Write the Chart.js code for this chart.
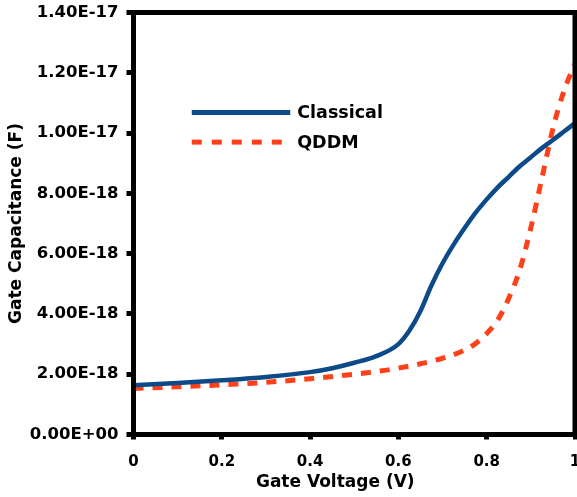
<!DOCTYPE html>
<html>
<head>
<meta charset="utf-8">
<script src="https://cdn.jsdelivr.net/npm/chart.js@4/dist/chart.umd.min.js"></script>
<style>
  html, body { margin: 0; padding: 0; background: #ffffff; }
  #wrap { width: 577px; height: 497px; position: relative; }
</style>
</head>
<body>
<div id="wrap"><canvas id="c" width="577" height="497"></canvas></div>
<script>
// ---- data ----
const classicalX = [0, 0.1, 0.2, 0.3, 0.4, 0.45, 0.5, 0.55, 0.6, 0.625, 0.65, 0.675, 0.7, 0.725, 0.75, 0.775, 0.8, 0.825, 0.85, 0.875, 0.9, 0.925, 0.95, 0.975, 1.0];
const classicalY = [1.63e-18, 1.71e-18, 1.80e-18, 1.91e-18, 2.07e-18, 2.20e-18, 2.38e-18, 2.60e-18, 3.00e-18, 3.45e-18, 4.10e-18, 4.95e-18, 5.68e-18, 6.30e-18, 6.85e-18, 7.36e-18, 7.80e-18, 8.20e-18, 8.55e-18, 8.90e-18, 9.20e-18, 9.50e-18, 9.77e-18, 1.005e-17, 1.033e-17];
const qddmX = [0, 0.1, 0.2, 0.3, 0.4, 0.5, 0.6, 0.7, 0.75, 0.775, 0.8, 0.825, 0.85, 0.875, 0.9, 0.925, 0.95, 0.975, 1.0];
const qddmY = [1.53e-18, 1.58e-18, 1.65e-18, 1.73e-18, 1.85e-18, 2.00e-18, 2.20e-18, 2.53e-18, 2.80e-18, 3.02e-18, 3.35e-18, 3.80e-18, 4.52e-18, 5.47e-18, 6.86e-18, 8.50e-18, 1.015e-17, 1.140e-17, 1.230e-17];
const seriesNames = ['Classical', 'QDDM'];
const xTickValues = [0, 0.2, 0.4, 0.6, 0.8, 1];
const xTickLabels = ['0', '0.2', '0.4', '0.6', '0.8', '1'];
const yTickValues = [0, 2e-18, 4e-18, 6e-18, 8e-18, 1e-17, 1.2e-17, 1.4e-17];
const yTickLabels = ['0.00E+00', '2.00E-18', '4.00E-18', '6.00E-18', '8.00E-18', '1.00E-17', '1.20E-17', '1.40E-17'];
const xTitle = 'Gate Voltage (V)';
const yTitle = 'Gate Capacitance (F)';

const toPts = (xs, ys) => xs.map((x, i) => ({ x: x, y: ys[i] }));

Chart.defaults.font.family = "'DejaVu Sans', sans-serif";
Chart.defaults.font.weight = 'bold';
Chart.defaults.color = '#000';

const framePlugin = {
  id: 'frame',
  afterDraw(chart) {
    const { ctx, chartArea: a } = chart;
    ctx.save();
    ctx.strokeStyle = '#000';
    ctx.lineWidth = 5;
    ctx.strokeRect(a.left, a.top, a.right - a.left, a.bottom - a.top);
    // x-axis title (drawn left of centre, as in the reference)
    ctx.fillStyle = '#000';
    ctx.font = "bold 17px 'DejaVu Sans', sans-serif";
    ctx.textAlign = 'center';
    ctx.textBaseline = 'alphabetic';
    ctx.fillText(xTitle, a.left + (a.right - a.left) * 0.457, 487);
    ctx.restore();
  }
};

const legendPlugin = {
  id: 'customLegend',
  afterDatasetsDraw(chart) {
    const ctx = chart.ctx;
    const xs = chart.scales.x, ys = chart.scales.y;
    const x0 = xs.getPixelForValue(0.132);
    const x1 = xs.getPixelForValue(0.355);
    const rows = [ys.getPixelForValue(1.068e-17), ys.getPixelForValue(0.97e-17)];
    ctx.save();
    chart.data.datasets.forEach((ds, i) => {
      const y = rows[i];
      ctx.beginPath();
      ctx.strokeStyle = ds.borderColor;
      ctx.lineWidth = 5;
      ctx.setLineDash(ds.borderDash ? [10, 10] : []);
      ctx.lineCap = 'butt';
      ctx.moveTo(x0, y);
      ctx.lineTo(x1, y);
      ctx.stroke();
      ctx.setLineDash([]);
      ctx.fillStyle = '#000';
      ctx.font = "bold 17.5px 'DejaVu Sans', sans-serif";
      ctx.textBaseline = 'middle';
      ctx.textAlign = 'left';
      ctx.fillText(ds.label, x1 + 7, y + 1);
    });
    ctx.restore();
  }
};

new Chart(document.getElementById('c'), {
  type: 'scatter',
  data: {
    datasets: [
      {
        label: seriesNames[0],
        data: toPts(classicalX, classicalY),
        showLine: true,
        borderColor: '#0c4a8a',
        backgroundColor: '#0c4a8a',
        borderWidth: 4.5,
        pointRadius: 0,
        cubicInterpolationMode: 'monotone'
      },
      {
        label: seriesNames[1],
        data: toPts(qddmX, qddmY),
        showLine: true,
        borderColor: '#ff4019',
        backgroundColor: '#ff4019',
        borderWidth: 5,
        borderDash: [10, 9],
        pointRadius: 0,
        cubicInterpolationMode: 'monotone'
      }
    ]
  },
  options: {
    responsive: false,
    animation: false,
    devicePixelRatio: 1,
    layout: { padding: { top: 12.5, right: 2, left: 0, bottom: 0 } },
    plugins: { legend: { display: false }, tooltip: { enabled: false } },
    scales: {
      x: {
        type: 'linear',
        min: 0, max: 1,
        afterBuildTicks: s => { s.ticks = xTickValues.map(v => ({ value: v })); },
        afterFit: s => { s.height = 62.5; s.paddingLeft = 0; s.paddingRight = 0; },
        ticks: {
          callback: (v, i) => xTickLabels[i],
          font: { size: 15, weight: 'bold' },
          color: '#000',
          padding: 14,
          maxRotation: 0,
          autoSkip: false
        },
        grid: { drawOnChartArea: false, drawTicks: true, tickLength: 5, tickWidth: 5, color: '#000' },
        border: { display: true, color: '#000', width: 5 },
        title: { display: false, text: xTitle }
      },
      y: {
        type: 'linear',
        min: 0, max: 1.4e-17,
        afterBuildTicks: s => { s.ticks = yTickValues.map(v => ({ value: v })); },
        afterFit: s => { s.width = 133.5; s.paddingTop = 0; s.paddingBottom = 0; },
        ticks: {
          callback: (v, i) => yTickLabels[i],
          font: { size: 16.5, weight: 'bold' },
          color: '#000',
          padding: 8,
          autoSkip: false
        },
        grid: { drawOnChartArea: false, drawTicks: true, tickLength: 7, tickWidth: 5, color: '#000' },
        border: { display: true, color: '#000', width: 5 },
        title: { display: true, text: yTitle, font: { size: 17, weight: 'bold' }, color: '#000', padding: { top: 6, bottom: 0 } }
      }
    }
  },
  plugins: [framePlugin, legendPlugin]
});
</script>
</body>
</html>
